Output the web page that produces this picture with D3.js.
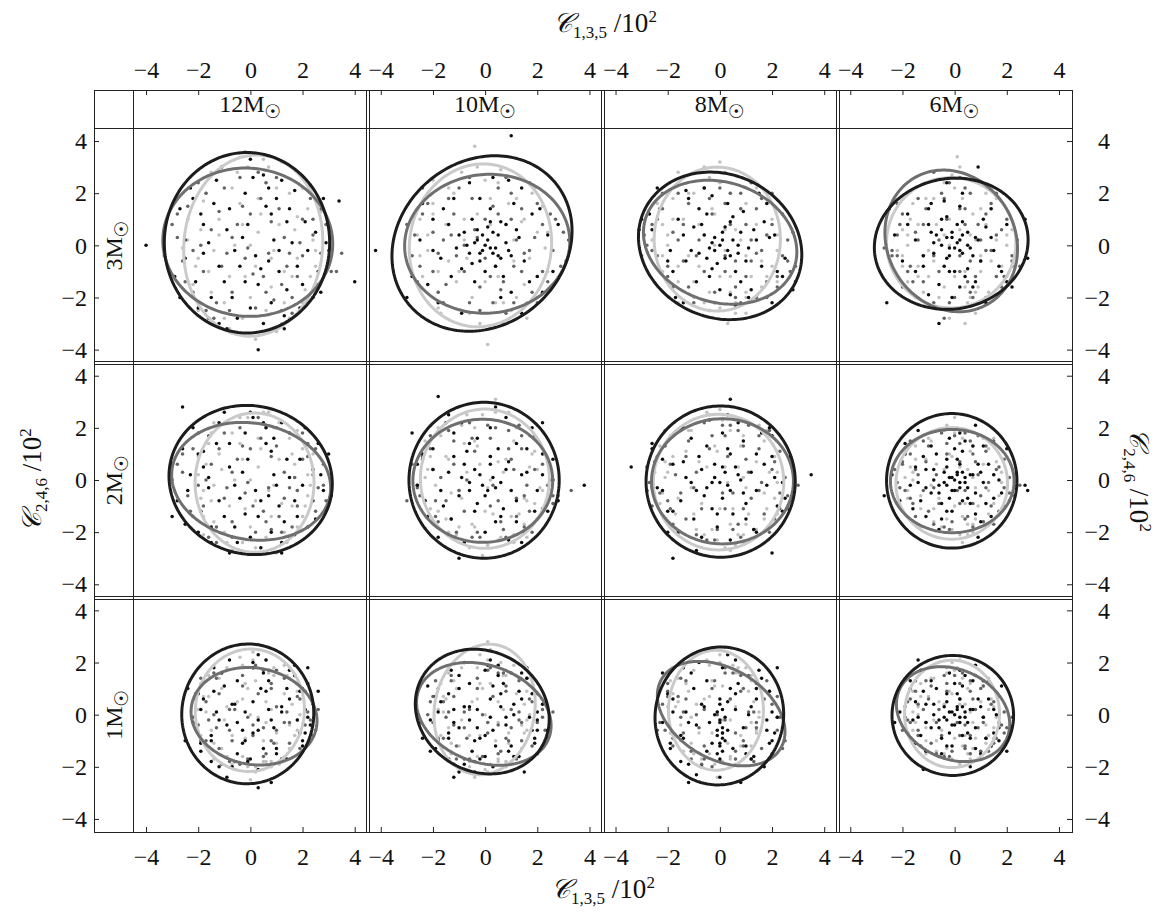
<!DOCTYPE html>
<html>
<head>
<meta charset="utf-8">
<script src="https://cdn.jsdelivr.net/npm/d3@7"></script>
<style>
  body { margin: 0; background: #fff; }
  svg { display: block; }
  text { font-family: "Liberation Serif", "Times New Roman", serif; fill: #111; }
</style>
</head>
<body>
<svg id="chart" width="1175" height="918"></svg>
<script>
// Panel grid: columns by first mass, rows by second mass (in solar masses)
const colMasses = ["12", "10", "8", "6"];
const rowMasses = ["3", "2", "1"];
const tickValues = [-4, -2, 0, 2, 4];
const axisDomain = [-4.5, 4.5];

// Fitted ellipses per panel, row-major: [cx, cy, semi-axis a, semi-axis b, angle in degrees]
const ellipsesBlack = [
  [-0.13, 0.10, 3.17, 3.46, 0], [-0.12, 0.07, 3.65, 3.15, 40], [0.01, -0.02, 3.21, 2.74, -25], [-0.13, 0.06, 2.96, 2.50, 10],
  [0.01, 0.00, 3.15, 2.84, -15], [-0.04, -0.01, 2.88, 2.99, 0], [0.03, -0.06, 2.86, 2.90, 0], [-0.11, -0.03, 2.50, 2.58, 0],
  [-0.10, 0.03, 2.53, 2.68, -5], [-0.11, 0.12, 2.65, 2.30, -30], [-0.02, -0.05, 2.46, 2.65, -10], [-0.07, -0.03, 2.33, 2.30, 0]
];
const ellipsesDark = [
  [-0.10, 0.12, 3.26, 2.84, -5], [0.08, 0.06, 3.17, 2.66, 5], [0.01, 0.12, 3.00, 2.30, -18], [-0.13, 0.17, 2.80, 2.45, -60],
  [0.03, -0.05, 3.07, 2.23, -10], [-0.09, -0.03, 2.68, 2.36, 0], [0.10, -0.05, 2.72, 2.40, 0], [-0.09, -0.04, 2.37, 1.98, 0],
  [0.14, -0.06, 2.43, 1.85, -10], [-0.05, 0.03, 2.66, 1.86, -20], [0.05, 0.04, 2.64, 1.74, -30], [-0.06, 0.02, 2.26, 1.71, -25]
];
const ellipsesLight = [
  [0.11, -0.01, 2.66, 3.48, -5], [-0.18, 0.00, 2.72, 3.13, -8], [-0.10, 0.24, 2.42, 2.76, 0], [-0.13, 0.10, 2.48, 2.50, 0],
  [0.16, -0.10, 2.28, 2.67, 0], [-0.01, 0.05, 2.47, 2.67, 0], [-0.05, -0.08, 2.50, 2.60, 0], [-0.11, -0.13, 2.14, 2.14, 0],
  [-0.02, 0.17, 2.09, 2.35, -5], [-0.02, 0.20, 1.92, 2.52, -10], [-0.15, 0.17, 1.82, 2.30, 0], [-0.10, 0.03, 1.82, 2.06, 0]
];

// Samples per panel, row-major: flat (C135, C246) pairs in units of 10 (divide by 10 for C/10^2)
const samplesBlack = [
  [-22,18, 5,27, -12,-8, 14,9, -3,3, 20,-15, -25,-5, 8,-22, -8,14, 17,21, 2,-4, -15,-20, 25,5, -5,-28, 11,-10, -18,8, 0,33, 6,15, -27,14, 22,-2, -10,-14, 13,-27, -2,20, 28,18, -20,-24, 9,2, -6,-2, 18,-8, -13,25, 3,-15, 24,-20, -29,-12, 12,25, -9,-32, 30,-7, -1,8, 7,-6, -16,1, 15,14, -23,22, 34,17, -40,0, 40,-14, 3,-40,
   -18,-3, 10,18, -7,-20, 21,9, -14,16, 4,-9, 26,-10, -21,-14, 1,26, 14,-17, -25,2, 8,12, -4,-8, 19,-24, -11,30, 29,1, -16,-28, 5,-30, 23,23, -27,-20, 16,1, -9,6, 11,-2, -2,-14, -19,12, 27,-18, 0,-24, 7,22, -12,-30, 13,-32],
  [-3,2, 2,-1, 5,4, -6,-3, 1,7, -2,-6, 8,1, -8,5, 4,-8, 0,0, 10,-4, -5,10, 6,9, -11,-1, 3,-3, -1,4, 12,6, -9,-9, 7,-12, -14,8, 15,-6, -4,-14, 2,14, 18,12, -17,-5, 11,16, -20,10, 20,-12, -12,18, 6,-20, -22,-15, 24,4, -6,24, 14,22, -25,2, 28,8, -18,-22, 9,25, -28,-12, 22,-18, 10,42, -42,-2, 33,2,
   1,2, -2,-3, 4,-1, -4,1, 3,5, -1,-2, 6,-5, -7,0, 2,9, -3,6, 9,-2, -5,-7, 0,-10, 13,3, -10,4, 5,-4, -13,-12, 8,8, -16,14, 17,-14, -2,18, 10,-18, -20,-2, 21,14, -9,-26, 3,26, 26,-10, -24,16, 14,-26, -30,-20],
  [0,0, 3,-2, -2,3, 5,2, -4,-1, 1,5, 2,-5, -6,4, 7,-3, -1,-7, 8,5, -8,-3, 4,9, -3,-9, 11,-1, -10,7, 6,-10, -5,12, 13,6, -13,-6, 9,13, -9,-14, 16,-8, -16,10, 3,16, 0,-17, 19,3, -19,-2, 12,-17, -12,18, 22,-10, -23,14, 6,-23, -6,22, 25,-5, -26,6, 15,20, -17,-20, 20,-22, -24,22, 28,-17, -30,10,
   1,2, -2,-2, 4,-4, -3,1, 2,7, -5,-5, 7,0, -7,8, 10,-6, -11,-2, 5,11, -4,-12, 14,2, -14,4, 8,-14, -8,14, 17,9, -18,-10, 11,-20, -13,21, 21,4, -20,-6, 4,-19, -3,19, 24,-12, -27,12, 18,16, -14,-22, 29,-14, -31,6],
  [-3,3, 0,-1, 2,2, -1,5, -5,0, 3,-3, 1,8, -7,4, 5,5, -2,-4, -4,-8, 6,-1, -8,-3, 0,-10, 8,3, -3,11, 4,-12, -10,8, 10,-6, -6,-15, 2,15, 12,7, -12,-8, 7,-16, -15,2, 15,-2, -9,16, 3,20, -18,12, 18,-10, -1,-20, 20,8, -20,-6, 12,-22, -22,-12, 22,-16, -3,24, 24,-2, -25,14, 28,-5, 27,10, -26,-22, -6,-30, 9,30,
   1,1, -2,-1, 2,-2, -1,3, 3,4, -3,-5, 5,0, -5,6, 7,-4, -8,1, 3,9, -2,-10, 9,2, -9,5, 5,-9, -5,10, 11,10, -12,-4, 8,-14, -10,14, 14,3, -15,-10, 2,-16, -4,17, 17,-8, -18,8, 14,14, -10,-19, 20,-14, -23,4],
  [-20,10, 5,22, -12,-8, 14,8, -3,3, 18,-14, -24,-4, 8,-20, -8,14, 15,18, 2,-4, -15,-18, 24,4, -5,-24, 11,-10, -18,5, 0,26, 6,14, -26,12, 20,-2, -10,-14, 12,-24, -2,18, 26,14, -20,-20, 9,2, -6,-2, 17,-8, -12,22, 3,-14, 22,-18, -28,-8, 12,22, -8,-28, 28,-4, -1,8, 7,-6, -16,1, -22,20, 30,10, -30,-14, -26,28, 12,-28,
   -16,-3, 9,16, -6,-18, 19,8, -13,14, 4,-8, 24,-8, -19,-12, 1,24, 13,-16, -23,2, 8,11, -4,-7, 17,-21, -10,26, 27,2, -15,-24, 4,-26, 21,20, -25,-17, 15,1, -8,5, 10,-2, -2,-13, -18,11, 25,-15, 0,-22, 6,20, -30,6, 31,-6],
  [-2,2, 4,-3, -6,-1, 2,6, 8,4, -8,6, 0,-6, 10,-4, -10,-6, 5,12, -4,-12, 14,2, -14,3, 6,-14, -6,14, 16,12, -16,-10, 12,-16, -12,18, 20,-4, -20,4, 2,20, 0,-20, 22,10, -22,-14, 15,-20, -15,22, 24,-12, -24,10, 8,24, -8,-24, 26,0, -26,-2, 18,20, -18,-22, 4,28, -10,-30, 28,-8, 22,22, -28,18, 38,-2, -18,32,
   -1,-2, 3,1, -4,4, 1,-4, 6,-1, -6,-4, 2,9, -9,1, 9,7, -3,-9, 12,-8, -12,9, 7,-11, -7,11, 16,3, -17,-4, 4,-16, -3,16, 19,-12, -20,12, 12,14, -13,-15, 22,2, -23,-8, 9,-23, -9,22, 26,8, -26,6, 14,-24, -14,25],
  [-2,1, 3,-2, -5,-3, 1,5, 7,2, -7,4, 1,-7, 9,-5, -9,-4, 4,10, -3,-11, 12,3, -13,1, 5,-13, -5,13, 14,10, -15,-8, 10,-15, -11,16, 18,-2, -18,6, 1,18, -1,-18, 20,9, -20,-12, 13,-19, -14,20, 22,-10, -22,8, 7,22, -7,-22, 24,-1, -24,-3, 16,18, -16,-20, 3,25, -9,-27, 25,-7, 19,20, -26,14, -34,5, -28,-4, 35,2, -18,-30, 20,-28, 4,31,
   0,-1, 2,3, -3,-1, 4,-4, -2,6, 6,5, -6,-6, 8,0, -8,9, 10,-9, -11,-1, 3,12, -1,-13, 14,-4, -14,7, 9,15, -10,-15, 17,6, -18,-12, 14,-20, -15,20, 21,1, -22,-4, 4,-23, -4,23, 24,-12, -26,12, 20,17, -20,-20, 27,9],
  [-1,1, 2,-1, -3,-2, 1,3, 4,1, -4,3, 0,-4, 5,-3, -6,-2, 2,6, -2,-7, 7,2, -8,0, 3,-8, -3,8, 9,6, -9,-5, 6,-9, -7,10, 11,-1, -11,4, 0,12, -1,-12, 13,6, -13,-8, 8,-13, -9,13, 15,-7, -15,5, 4,15, -5,-15, 17,0, -17,-2, 11,13, -11,-14, 2,18, -6,-19, 18,-5, 14,-14, -19,10, -21,-8, 20,12, -14,19, 8,21, 9,-22, -24,2, 28,-4, 27,-2, -27,-6,
   0,0, 1,2, -2,1, 2,-3, -1,-4, 3,3, -4,-1, 4,-1, -3,5, 6,2, -6,-5, 1,8, 5,-7, -8,4, 8,-5, -5,-9, 10,3, -11,-3, 3,11, -3,-12, 12,-9, -12,9, 7,13, -14,-1, 15,2, -16,-11, 10,-16, -2,16, 18,-12, -19,14],
  [-2,1, 3,-2, -5,-3, 1,5, 7,2, -7,4, 1,-7, 9,-5, -9,-4, 4,10, -3,-11, 12,3, -13,1, 5,-13, -5,13, 14,10, -15,-8, 10,-15, -11,16, 18,-2, -18,6, 1,18, -1,-18, 19,9, -19,-11, 12,-17, -14,18, 20,-10, -20,8, 6,21, -7,-20, 22,-1, -22,-3, 15,17, -15,-18, 3,23, -9,-24, 21,-7, 17,19, 22,18, 26,9, 8,-26, -25,-10, -24,10, 3,-28,
   -12,-2, 7,13, -5,-15, 15,6, -10,11, 3,-6, 19,-7, -15,-10, 1,20, 10,-13, -19,2, 6,9, -3,-6, 14,-17, -8,21, 21,2, -12,-20, 3,-21, 17,15, -19,-14, 12,1, -6,4, 8,-2, -2,-10, -14,9, 20,-12, 0,-17, 5,16, 22,12, 23,-4],
  [-3,2, 2,-1, -6,-2, 2,6, 6,3, -8,3, 0,-8, 8,-4, -10,-5, 3,11, -4,-10, 11,4, -12,2, 4,-12, -6,12, 13,9, -14,-7, 9,-14, -10,15, 17,-1, -17,5, 0,17, -2,-17, 18,8, -18,-10, 11,-16, -13,17, 19,-9, -19,7, 5,19, -8,-19, 20,-2, -21,-2, 14,16, -14,-17, 2,21, -10,-22, 20,-6, -22,11, 16,18, -24,-9, 20,-15, -12,-24, 15,-22, -4,-22, 24,-6,
   -12,-3, 7,12, -5,-14, 14,6, -10,10, 3,-6, 18,-6, -14,-9, 1,19, 10,-12, -18,1, 6,8, -3,-5, 13,-16, -8,20, 20,1, -12,-19, 3,-20, 16,14, -19,-13, 11,0, -6,3, 8,-1, -2,-9, -14,8, 19,-11, 0,-16, 5,15, -21,-14, 22,4],
  [0,-2, 1,-5, -1,-8, 0,-11, 1,-14, -1,1, 0,4, 2,-1, -4,-3, 3,5, 6,2, -7,4, 1,-7, 9,-5, -9,-4, 4,10, -3,-11, 12,3, -13,1, 5,-13, -5,13, 14,10, -15,-8, 10,-15, -11,16, 18,-2, -18,6, 1,18, 19,9, -19,-11, 12,-17, -14,18, 20,-10, -20,8, 6,21, -7,-20, 22,-1, -22,-3, 15,17, -15,-18, 3,23, -9,-23, 21,-7, 17,-20, -22,16, 22,18, -12,-26, 8,-26, 0,-24,
   0,-3, -1,-6, 1,-9, 0,-12, -1,-15, 0,-17, 1,2, -2,0, 0,6, 2,-10, -12,-3, 7,12, -5,-14, 14,6, -10,10, 3,-6, 18,-6, -14,-9, 10,-12, -18,1, 6,8, 13,-16, -8,20, 20,1, -12,-19, 16,14, -19,-13, 11,0, -6,3, 19,-11],
  [-1,1, 2,-1, -3,-2, 1,3, 4,1, -4,3, 0,-4, 5,-3, -6,-2, 2,6, -2,-7, 7,2, -8,0, 3,-8, -3,8, 9,6, -9,-5, 6,-9, -7,10, 11,-1, -11,4, 0,12, -1,-12, 13,6, -13,-8, 8,-13, -9,13, 15,-7, -15,5, 4,15, -5,-15, 16,0, -16,-2, 11,13, -11,-14, 2,17, -6,-16, 17,-5, 14,-12, -17,10, -18,-7, 18,11, -13,17, 8,19, 6,-20, -21,1, -14,21, 20,-14, -23,-3, -12,-21,
   0,0, 1,2, -2,1, 2,-3, -1,-4, 3,3, -4,-1, 4,-1, -3,5, 6,2, -6,-5, 1,8, 5,-7, -8,4, 8,-5, -5,-9, 10,3, -11,-3, 3,11, -3,-12, 12,-9, -12,9, 7,13, -14,-1, 15,2, -15,-11, 10,-15, -2,16, 17,-10, -17,13]
];
const samplesDark = [
  [-28,3, 20,10, -10,22, 5,-12, 16,-20, -18,-10, 27,-3, -5,8, 10,26, -24,15, 2,-24, 23,18, -13,-22, 13,3, -2,-5, -20,24, 29,8, 7,-3, -7,-18, 18,-12, -15,6, 4,18, 26,-15, -26,-6, 12,-25, -9,-3, 0,12, 21,25, -30,8, 8,9, -4,26, 15,-3, -12,13, 31,-10, -22,-18, 6,-18, 35,-3, -33,-4, -17,-25, 24,4,
   -22,-2, 14,-8, -3,15, 9,-21, 24,10, -17,20, 1,-11, -11,-8, 19,1, -25,-14, 6,24, 27,14, -7,3, 11,14, -28,12, 16,-26, -14,-28, 3,28, 20,-4, -19,0, 30,-2, -8,-25, 12,-15, -1,-1, 33,-10],
  [-20,5, 15,-3, -8,-10, 5,12, 22,8, -15,-15, 0,-5, 10,20, -25,-8, 18,-18, -5,18, 26,-2, -12,12, 3,-22, -22,16, 12,2, -3,3, 20,16, -18,-3, 7,-14, -10,22, 25,12, -27,4, 14,-10, -6,-22, 0,10, 22,-10, -16,-22, 8,26, -26,-14, 30,5, -13,4, 17,24, 4,-8, -2,-25, 29,-8, -24,22, 11,-22, -8,0, 32,2,
   -16,2, 11,-8, -4,6, 6,-17, 19,3, -20,-10, 3,15, 14,14, -11,-4, 24,-14, -24,12, 8,-26, -6,26, 27,10, -18,-18, 2,-12, 17,-2, -14,18, 10,10, -28,-4, 20,-22, -2,-16, 5,22, 31,-6, -30,8],
  [-18,5, 14,-3, -6,-10, 8,14, 20,8, -12,-16, 2,-4, -22,14, 18,-14, -4,18, 24,-4, -14,8, 6,-20, 12,2, -24,-4, 16,18, -8,2, 24,12, -20,-12, 4,8, 10,-12, -2,-18, -16,20, 22,-16, 0,22, -26,8, 14,-20, 26,2, -10,-22, 8,20, -28,0, 20,20, -14,-6, 6,-6, 27,-10, -22,20, -4,-25, 12,24, -30,-4, 28,5,
   -16,2, 12,-6, -3,12, 6,-16, 18,4, -20,-8, 2,16, 14,14, -9,-4, 22,-12, -24,10, 8,-22, -6,22, 26,-6, -18,-16, 2,-10, 16,-2, -12,16, 10,8, -26,-2, 18,-20, -2,-22, 4,20, 29,-8, -29,4],
  [-15,5, 12,-2, -6,-10, 4,14, 18,6, -12,-14, 2,-4, -20,12, 16,-12, -4,18, 22,-4, -12,8, 6,-18, 10,2, -22,-4, 14,16, -6,2, 20,10, -18,-10, 4,8, 8,-12, 0,-20, -14,18, 18,-16, -2,24, -22,4, 12,-20, 24,2, -8,-22, 6,20, -24,-2, 16,20, -12,-4, 6,-6, -8,28, -27,-1, 2,26, -4,-28, -20,-16, 22,-8,
   -14,2, 10,-6, -3,10, 5,-14, 16,4, -17,-8, 2,14, 12,12, -8,-4, 19,-12, -21,8, 7,-20, -5,20, 22,-6, -16,-14, 2,-10, 14,-2, -11,14, 9,8, -24,-4, 16,-19, -2,-22, 4,22, 25,-8, -22,16],
  [-26,3, 20,8, -10,18, 5,-12, 16,-18, -18,-10, 26,-3, -5,8, 10,20, -22,12, 2,-20, 22,14, -13,-18, 13,3, -2,-5, -20,18, 28,6, 7,-3, -7,-16, 18,-10, -15,6, 4,16, 25,-12, -24,-6, 12,-20, -9,-3, 0,12, 20,18, -28,6, 8,9, -4,20, 15,-3, -12,12, 29,-8, -22,-14, 6,-16, 31,-2, -30,0, -16,-22, 24,2,
   -20,-2, 13,-7, -3,13, 8,-19, 22,9, -16,17, 1,-10, -10,-7, 17,1, -23,-12, 6,21, 25,12, -7,3, 10,13, -26,10, 15,-22, -13,-24, 3,24, 18,-4, -17,0, 28,-2, -7,-22, 11,-14, -1,-1, 30,-8],
  [-20,4, 15,-6, -8,-12, 9,12, 22,6, -13,-15, 3,-2, -21,12, 17,-12, -5,16, 24,-2, -12,6, 7,-19, 11,4, -25,-6, 14,17, -7,0, 23,10, -19,-14, 2,9, 12,-14, -3,-20, -14,19, 20,-15, 1,21, -24,9, 15,-18, 25,0, -11,-20, 9,19, -26,-2, 19,17, -15,-8, 5,-8, 26,-9, -21,17, -5,-22, 13,21, -30,-8, 33,-4,
   -17,1, 12,-7, -4,11, 6,-16, 19,4, -19,-8, 2,16, 14,12, -10,-4, 22,-11, -24,8, 8,-22, -6,22, 26,-6, -18,-16, 2,-10, 16,-2, -12,15, 10,8, -26,-3, 18,-20, -2,-22, 4,20, 28,-6, -28,6],
  [-19,6, 15,-4, -7,-11, 9,13, 21,7, -13,-15, 1,-5, -21,13, 17,-13, -3,17, 23,-5, -13,9, 5,-19, 11,3, -23,-5, 15,17, -9,3, 23,11, -19,-11, 3,9, 9,-11, -1,-19, -15,19, 21,-15, 1,21, -25,7, 13,-19, 25,1, -9,-21, 7,19, -27,-1, 19,19, -15,-5, 5,-5, 26,-11, -21,19, -5,-23, 11,21, -26,-10, 30,-2,
   -17,2, 12,-7, -4,12, 7,-17, 20,4, -20,-8, 2,17, 15,12, -10,-3, 23,-11, -24,9, 8,-22, -6,22, 26,-6, -18,-17, 2,-11, 16,-1, -12,15, 10,8, -26,-3, 19,-20, -2,-23, 4,21, 28,-7, -28,5],
  [-15,4, 12,-3, -6,-9, 7,10, 17,5, -10,-12, 1,-4, -17,10, 14,-10, -3,14, 19,-3, -11,7, 4,-15, 9,2, -19,-4, 12,13, -7,2, 19,8, -16,-9, 2,7, 7,-9, -1,-16, -12,15, 17,-12, 0,17, -20,6, 11,-16, 21,1, -8,-17, 6,15, -22,-1, 15,15, -12,-4, 4,-4, 21,-8, -17,15, -4,-18, 9,17, -22,-9, 25,-2,
   -14,2, 10,-6, -3,10, 5,-14, 16,4, -17,-7, 2,14, 12,11, -8,-3, 19,-10, -20,7, 7,-18, -5,18, 21,-5, -15,-14, 2,-9, 13,-1, -10,13, 8,7, -21,-3, 15,-17, -2,-19, 4,18, 23,-6, -23,4],
  [-17,5, 13,-3, -7,-10, 8,12, 19,6, -12,-13, 1,-4, -19,11, 15,-11, -3,15, 21,-4, -12,8, 5,-16, 10,3, -20,-4, 13,14, -8,2, 21,9, -17,-10, 3,8, 8,-10, -1,-17, -14,16, 19,-13, 1,18, -21,6, 12,-17, 22,1, -8,-18, 7,17, -22,-1, 17,15, -13,-5, 5,-5, 24,-8, -19,14, -4,-19, 10,17, 26,2, 25,-6,
   -16,-2, 10,-6, -3,11, 6,-15, 18,7, -13,14, 1,-8, -8,-6, 14,1, -19,-10, 5,17, 20,10, -6,2, 8,10, -21,8, 12,-18, -11,-19, 2,19, 15,-3, -14,0, 23,-2, -6,-18, 9,-11, -1,-1, 24,4],
  [-16,5, 13,-2, -7,-9, 8,11, 18,5, -11,-12, 1,-3, -18,10, 14,-10, -3,14, 20,-3, -12,7, 5,-15, 10,2, -20,-3, 13,13, -8,1, 20,8, -16,-9, 3,7, 8,-9, -1,-16, -13,15, 18,-12, 1,17, -21,5, 12,-16, 22,2, -8,-17, 7,16, -22,0, 16,14, -12,-4, 5,-4, 23,-6, -19,13, -4,-18, 10,16, -25,-3, 26,1, 25,-4,
   -15,-1, 10,-5, -3,10, 6,-14, 17,6, -13,13, 1,-7, -8,-5, 13,1, -18,-9, 5,16, 19,9, -6,2, 8,9, -20,7, 12,-17, -11,-17, 2,18, 14,-3, -14,1, 22,-1, -6,-17, 9,-10, -1,0, 24,-9],
  [-16,7, 14,-5, -6,-12, 9,10, 20,4, -11,-14, 2,-2, -20,9, 16,-13, -2,13, 22,-6, -13,6, 6,-17, 11,1, -21,-6, 14,12, -9,0, 22,7, -18,-12, 4,6, 9,-12, 0,-18, -15,14, 20,-15, 2,16, -22,4, 13,-18, 23,-1, -7,-19, 8,15, -23,-3, 18,13, -14,-7, 6,-7, 25,-10, -20,12, -3,-20, 11,15, 24,-13, -24,-6,
   -15,-1, 10,-5, -3,10, 6,-14, 17,6, -13,13, 1,-7, -8,-5, 13,1, -18,-9, 5,16, 19,9, -6,2, 8,9, -20,7, 12,-17, -11,-17, 2,18, 14,-3, -14,1, 22,-1, -6,-17, 9,-10, -1,0, 24,-5],
  [-14,4, 11,-3, -5,-8, 6,9, 15,5, -9,-11, 1,-3, -15,9, 12,-9, -3,12, 17,-3, -10,6, 4,-13, 8,2, -17,-3, 11,11, -6,2, 17,7, -14,-8, 2,6, 6,-8, -1,-14, -11,13, 15,-11, 0,15, -18,5, 10,-14, 19,1, -7,-15, 6,13, -19,-1, 13,13, -11,-3, 4,-4, 19,-7, -15,13, -4,-16, 8,15, -20,-6, 22,-1,
   -12,2, 9,-5, -3,9, 4,-12, 14,4, -14,-6, 2,12, 10,10, -7,-3, 16,-9, -17,6, 6,-15, -4,15, 18,-4, -13,-12, 2,-8, 11,-1, -9,11, 7,6, -18,-2, 13,-14, -2,-16, 3,16, 20,-5, -19,3]
];
const samplesLight = [
  [-15,28, 12,-30, -20,-5, 6,24, 18,-5, -8,-12, 3,5, -12,10, 22,14, -3,-28, 15,20, -18,17, 8,-16, -1,30, 20,-22, -6,0, 11,8, -22,-15, 2,-8, 24,2, -10,-22, 16,-12, -14,-2, 5,33, -4,16, 13,-22, -19,6, 9,-2, 21,-17, -7,22, 0,-20, 17,6, -16,-10, 4,12, 25,-8, -24,2, 10,-33, -2,36, 27,13, -26,-1,
   -10,-28, 7,30, -17,20, 13,-10, -2,-12, 20,22, -21,-8, 3,18, 15,-28, -12,4, 8,-5, -5,28, 23,-12, -15,-18, 0,0, 18,11, -24,10, 6,-25, -8,-32, 12,32, 25,-2, -20,-25, 2,-36, 10,22, -3,8],
  [-12,20, 15,-15, -22,-2, 8,8, -5,-20, 20,5, -15,8, 3,-3, 10,-25, -18,-18, 22,15, -8,2, 0,25, 17,-5, -25,10, 5,-12, -10,-10, 12,18, -3,12, 24,-10, -20,16, 7,-22, -14,-6, 18,20, -2,-30, 11,2, -24,-12, 2,18, 20,-20, -9,28, 14,9, -17,-26, 23,-1, -26,4, 6,29, -7,-5, 16,-28, -20,25, 1,-38, -4,38,
   -8,10, 12,-20, -18,-10, 5,24, 15,10, -22,4, 0,-14, 20,-12, -6,-26, 9,16, -14,22, 24,5, -11,-14, 2,8, 16,-22, -25,-4, 7,-30, -3,30, 19,22, -18,-24, 25,-16, 11,-6, -1,-2, -20,12, 4,-22],
  [-10,20, 12,-12, -20,0, 6,6, -4,-18, 18,4, -14,10, 2,-2, 10,-20, -16,-14, 18,16, -6,4, 0,24, 16,-6, -22,8, 4,-12, -8,-8, 10,16, -2,12, 20,-8, -18,18, 6,-22, -12,-4, 14,22, 0,-24, 8,2, -22,-10, 2,28, -6,30, 16,-16, -10,-20, 20,10, -24,16, 0,32, 3,-30, -3,14, 22,-2, -16,28, 10,-26, -26,2,
   -8,8, 10,-18, -16,-8, 4,20, 14,8, -20,4, 0,-12, 18,-12, -6,-22, 8,14, -12,20, 22,4, -10,-14, 2,6, 14,-20, -22,-4, 6,-26, -4,26, 18,20, -16,-22, 22,-14, 10,-4, -2,0, -18,10, 4,-18],
  [-8,18, 10,-10, -18,0, 6,4, -4,-16, 16,2, -14,8, 2,-2, 8,-18, -14,-12, 14,14, -4,4, 0,22, 14,-6, -20,6, 4,-10, -8,-6, 10,14, -2,10, 18,-8, -16,16, 6,-20, -10,-2, 12,20, 2,-24, 8,2, -20,-8, 2,30, 1,34, -1,27, 20,0, -2,-28, 12,-2, -12,-18, 22,6, 19,-14, -22,-2, 4,-30, 8,-26, -18,-14,
   -7,8, 9,-16, -14,-8, 3,18, 12,8, -18,4, 0,-12, 16,-12, -6,-20, 7,12, -11,18, 20,4, -10,-12, 2,6, 13,-18, -20,-4, 5,-22, -4,24, 16,18, -15,-20, 20,-12, 10,-4, -2,0, -17,10, 4,-16],
  [-14,22, 12,-24, -18,-4, 6,20, 18,-4, -8,-10, 3,5, -12,10, 20,12, -3,-24, 15,16, -16,14, 8,-14, -1,24, 18,-18, -6,0, 11,8, -18,-14, 2,-8, 22,2, -10,-20, 16,-10, -14,-2, 5,26, -4,14, 13,-20, -17,6, 9,-2, 20,-14, -7,18, 0,-18, 17,6, -15,-8, 4,12, 22,-6, -20,2, 10,-28, 2,-28, 24,10, -20,-20,
   -9,-24, 7,26, -15,18, 12,-9, -2,-11, 18,19, -19,-7, 3,16, 14,-24, -11,4, 7,-4, -4,24, 21,-10, -14,-16, 0,0, 16,10, -20,9, 6,-22, -7,-27, 11,22, 23,-2, -18,-21, 2,-26, 9,20, -3,8],
  [-9,21, 13,-13, -19,-2, 5,7, -5,-17, 17,5, -15,9, 1,-3, 11,-21, -15,-15, 17,17, -7,3, -1,25, 15,-7, -21,9, 3,-13, -9,-7, 11,15, -3,13, 19,-9, -17,17, 5,-23, -13,-5, 13,21, 1,-25, 7,3, -21,-11, 3,27, -7,25, 15,-17, -11,-21, 19,11, -23,15, -1,-29, -4,15, 21,-3, 11,-24, -23,1, 4,31, 9,26,
   8,8, -10,-18, 16,-8, -4,20, -14,8, 20,4, 0,-12, -18,-12, 6,-22, -8,14, 12,20, -22,4, 10,-14, -2,6, -14,-20, 22,-4, -6,-26, 4,26, -18,20, 16,-22, -22,-14, -10,-4, 2,0, 18,10, -4,-18],
  [-11,19, 11,-13, -21,1, 7,5, -3,-19, 19,3, -13,11, 3,-1, 9,-21, -17,-13, 17,15, -5,5, 1,23, 17,-5, -21,7, 5,-11, -7,-9, 9,17, -1,11, 21,-7, -19,17, 7,-21, -11,-3, 15,21, -1,-23, 9,1, -23,-9, 1,25, -5,26, 17,-15, -9,-19, 21,9, -23,13, 2,-26, -2,13, 22,-1, 9,-24, -25,3, 0,27, 4,-27,
   -8,7, 10,-17, -16,-7, 4,19, 14,7, -20,3, 0,-11, 18,-11, -6,-21, 8,13, -12,19, 22,3, -10,-13, 2,5, 14,-19, -22,-5, 6,-25, -4,25, 18,19, -16,-21, 22,-13, 10,-3, -2,1, -18,9, 4,-17],
  [-9,15, 9,-10, -16,0, 5,4, -3,-15, 15,2, -11,8, 2,-1, 7,-17, -13,-11, 13,12, -4,4, 0,18, 13,-4, -17,5, 4,-9, -6,-7, 7,13, -1,9, 17,-6, -15,13, 5,-17, -9,-2, 11,16, -1,-19, 7,1, -18,-7, 1,20, -4,19, 13,-13, -8,-16, 16,7, -19,10, 2,-21, -2,10, 18,-1, 7,-20, -19,1, 0,24, 3,-24,
   -7,6, 8,-15, -13,-6, 3,16, 11,6, -16,3, 0,-10, 15,-9, -5,-18, 6,11, -10,16, 18,3, -8,-11, 2,5, 11,-16, -18,-4, 5,-21, -3,21, 15,16, -13,-18, 18,-11, 8,-3, -2,1, -15,8, 3,-14],
  [-9,18, 10,-11, -17,1, 6,5, -3,-16, 16,4, -11,10, 3,-1, 8,-18, -14,-11, 15,14, -5,5, 1,21, 15,-4, -18,7, 5,-10, -7,-8, 9,15, -1,10, 18,-6, -16,15, 6,-18, -10,-2, 13,19, -1,-20, 8,2, -19,-8, 1,24, -4,22, 15,-13, -9,-16, 18,9, -19,12, 2,-22, -2,12, 19,0, 8,-20, -20,2, 3,27, 0,-25,
   -7,-19, 6,21, -12,14, 10,-7, -2,-9, 14,15, -15,-6, 2,13, 11,-19, -9,3, 6,-3, -3,19, 17,-8, -11,-13, 0,0, 13,8, -16,7, 5,-18, -6,-21, 9,18, 18,-2, -14,-17, 2,-20, 7,16, -3,6],
  [-9,18, 9,-11, -16,1, 5,5, -3,-16, 15,4, -11,10, 2,-1, 8,-18, -13,-11, 14,14, -5,5, 1,21, 14,-4, -16,7, 4,-10, -6,-8, 8,15, -1,10, 16,-6, -14,16, 5,-18, -9,-2, 11,19, 0,-21, 7,2, -17,-8, 2,25, -2,23, 14,-13, -8,-17, 16,9, -17,12, 1,-22, -2,12, 17,0, 8,-20, -18,2, 1,28, -4,-24,
   -6,-18, 6,20, -12,13, 9,-7, -2,-8, 13,14, -14,-5, 2,12, 10,-18, -8,3, 5,-3, -3,18, 15,-7, -10,-12, 0,0, 12,8, -15,6, 5,-17, -6,-20, 8,17, 16,-2, -13,-15, 2,-19, 7,15, -3,6],
  [-10,17, 8,-12, -17,3, 4,6, -4,-15, 13,5, -12,9, 1,-2, 6,-17, -15,-10, 12,15, -6,6, 0,20, 12,-3, -18,8, 3,-11, -8,-7, 7,16, -2,11, 14,-7, -16,14, 4,-17, -11,-1, 10,18, -2,-19, 6,3, -19,-7, 0,23, -5,21, 12,-12, -10,-15, 14,10, -19,13, 1,-21, -3,13, 15,1, 6,-19, -20,3, 2,26, -1,-24,
   -7,-17, 5,19, -13,12, 8,-8, -3,-7, 12,13, -15,-4, 1,11, 9,-17, -9,4, 4,-2, -4,19, 14,-6, -11,-11, -1,1, 11,9, -16,5, 4,-16, -7,-19, 7,18, 15,-1, -14,-14, 1,-18, 6,16, -4,7],
  [-8,14, 8,-9, -14,0, 4,4, -3,-13, 13,2, -10,7, 2,-1, 6,-15, -11,-10, 11,11, -4,4, 0,17, 12,-4, -15,5, 4,-8, -5,-6, 6,12, -1,8, 15,-5, -13,12, 5,-15, -8,-2, 10,14, -1,-17, 6,1, -16,-6, 1,18, -3,16, 12,-11, -7,-14, 14,6, -16,9, 2,-19, -2,9, 16,-1, 6,-17, -16,1, 2,21, -1,20,
   -6,5, 7,-13, -11,-5, 3,14, 10,5, -14,3, 0,-9, 13,-8, -4,-15, 5,10, -9,14, 15,3, -7,-10, 2,4, 10,-14, -15,-3, 4,-18, -3,18, 13,14, -11,-15, 15,-9, 7,-3, -2,1, -13,7, 3,-12]
];

const svg = d3.select("#chart");
const frame = { left: 94, top: 90, right: 1072, bottom: 832, headW: 39, headH: 38 };
const pw = (frame.right - frame.left - frame.headW) / colMasses.length;
const ph = (frame.bottom - frame.top - frame.headH) / rowMasses.length;
const colX = c => frame.left + frame.headW + c * pw;
const rowY = r => frame.top + frame.headH + r * ph;

const xScales = colMasses.map((_, c) => d3.scaleLinear().domain(axisDomain).range([colX(c), colX(c) + pw]));
const yScales = rowMasses.map((_, r) => d3.scaleLinear().domain(axisDomain).range([rowY(r) + ph, rowY(r)]));

const series = [
  { samples: samplesLight, ellipses: ellipsesLight, dot: "#c0c0c0", stroke: "#cacaca" },
  { samples: samplesDark,  ellipses: ellipsesDark,  dot: "#636363", stroke: "#6f6f6f" },
  { samples: samplesBlack, ellipses: ellipsesBlack, dot: "#0d0d0d", stroke: "#1c1c1c" }
];

const toPairs = flat => d3.range(0, flat.length, 2).map(i => [flat[i] / 10, flat[i + 1] / 10]);
const ellipseOutline = ([cx, cy, a, b, deg]) => {
  const t = deg * Math.PI / 180;
  return d3.range(0, 2 * Math.PI, Math.PI / 90).map(s => [
    cx + a * Math.cos(s) * Math.cos(t) - b * Math.sin(s) * Math.sin(t),
    cy + a * Math.cos(s) * Math.sin(t) + b * Math.sin(s) * Math.cos(t)
  ]);
};

const defs = svg.append("defs");

rowMasses.forEach((rm, r) => {
  colMasses.forEach((cm, c) => {
    const k = r * colMasses.length + c;
    const xs = xScales[c], ys = yScales[r];
    defs.append("clipPath").attr("id", `clip-${k}`)
      .append("rect").attr("x", colX(c)).attr("y", rowY(r)).attr("width", pw).attr("height", ph);
    const g = svg.append("g").attr("clip-path", `url(#clip-${k})`);

    series.forEach(s => {
      g.append("g").selectAll("circle").data(toPairs(s.samples[k])).join("circle")
        .attr("cx", d => xs(d[0])).attr("cy", d => ys(d[1]))
        .attr("r", 1.75).attr("fill", s.dot);
    });

    const line = d3.line().x(d => xs(d[0])).y(d => ys(d[1])).curve(d3.curveLinearClosed);
    series.forEach(s => {
      g.append("path").attr("d", line(ellipseOutline(s.ellipses[k])))
        .attr("fill", "none").attr("stroke", s.stroke).attr("stroke-width", 3);
    });
  });
});

// Frame: outer box, header separators, double rules between panels
const rules = svg.append("g").attr("stroke", "#222").attr("stroke-width", 1).attr("fill", "none")
  .attr("shape-rendering", "crispEdges");
rules.append("rect").attr("x", frame.left + 0.5).attr("y", frame.top + 0.5)
  .attr("width", frame.right - frame.left).attr("height", frame.bottom - frame.top);
rules.append("line").attr("x1", colX(0) + 0.5).attr("x2", colX(0) + 0.5).attr("y1", frame.top).attr("y2", frame.bottom);
rules.append("line").attr("y1", rowY(0) + 0.5).attr("y2", rowY(0) + 0.5).attr("x1", frame.left).attr("x2", frame.right);
d3.range(1, colMasses.length).forEach(c => {
  [-1.5, 1.5].forEach(o => rules.append("line")
    .attr("x1", Math.round(colX(c) + o) + 0.5).attr("x2", Math.round(colX(c) + o) + 0.5)
    .attr("y1", frame.top).attr("y2", frame.bottom));
});
d3.range(1, rowMasses.length).forEach(r => {
  [-1.5, 1.5].forEach(o => rules.append("line")
    .attr("y1", Math.round(rowY(r) + o) + 0.5).attr("y2", Math.round(rowY(r) + o) + 0.5)
    .attr("x1", frame.left).attr("x2", frame.right));
});

// Axes on all four sides
const styleAxis = g => {
  g.select(".domain").remove();
  g.attr("font-family", "Liberation Serif, Times New Roman, serif").attr("font-size", 24);
  g.selectAll(".tick line").attr("stroke", "#222");
  g.selectAll(".tick text").attr("fill", "#000");
};
colMasses.forEach((_, c) => {
  svg.append("g").attr("transform", `translate(0,${frame.top})`)
    .call(d3.axisTop(xScales[c]).tickValues(tickValues).tickSize(-5).tickPadding(12)).call(styleAxis);
  svg.append("g").attr("transform", `translate(0,${frame.bottom})`)
    .call(d3.axisBottom(xScales[c]).tickValues(tickValues).tickSize(-5).tickPadding(16)).call(styleAxis);
});
rowMasses.forEach((_, r) => {
  svg.append("g").attr("transform", `translate(${frame.left},0)`)
    .call(d3.axisLeft(yScales[r]).tickValues(tickValues).tickSize(-5).tickPadding(7)).call(styleAxis);
  svg.append("g").attr("transform", `translate(${frame.right},0)`)
    .call(d3.axisRight(yScales[r]).tickValues(tickValues).tickSize(-5).tickPadding(7)).call(styleAxis)
    .call(g => g.selectAll(".tick text").attr("text-anchor", "end").attr("x", 38));
});

// Column and row mass headers
colMasses.forEach((m, c) => {
  const t = svg.append("text").attr("x", colX(c) + pw / 2).attr("y", frame.top + 22)
    .attr("text-anchor", "middle").attr("font-size", 24);
  t.append("tspan").text(`${m}M`);
  t.append("tspan").attr("font-size", 19).attr("dy", 6).attr("font-family", "DejaVu Sans").text("☉");
});
rowMasses.forEach((m, r) => {
  const t = svg.append("text")
    .attr("transform", `translate(${frame.left + 28},${rowY(r) + ph / 2}) rotate(-90)`)
    .attr("text-anchor", "middle").attr("font-size", 24);
  t.append("tspan").text(`${m}M`);
  t.append("tspan").attr("font-size", 19).attr("dy", 6).attr("font-family", "DejaVu Sans").text("☉");
});

// Axis titles
const axisTitle = (sel, sub) => {
  sel.attr("font-size", 27).attr("text-anchor", "middle");
  sel.append("tspan").attr("font-style", "italic").text("𝒞");
  sel.append("tspan").attr("font-size", 17).attr("dy", 6).text(sub);
  sel.append("tspan").attr("dy", -6).text(" /10");
  sel.append("tspan").attr("font-size", 17).attr("dy", -10).text("2");
};
svg.append("text").attr("x", 605).attr("y", 32).call(axisTitle, "1,3,5");
svg.append("text").attr("x", 603).attr("y", 898).call(axisTitle, "1,3,5");
svg.append("text").attr("transform", "translate(41,480) rotate(-90)").call(axisTitle, "2,4,6");
svg.append("text").attr("transform", "translate(1130,480) rotate(90)").call(axisTitle, "2,4,6");
</script>
</body>
</html>
